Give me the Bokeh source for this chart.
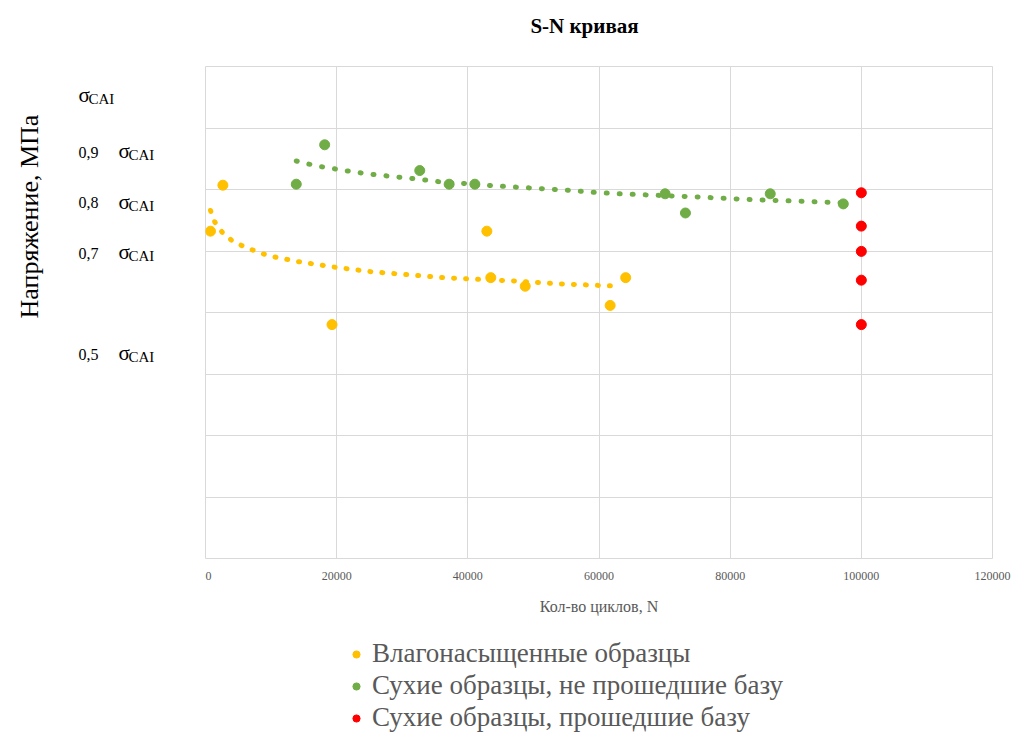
import numpy as np
from math import pi
from bokeh.plotting import figure
from bokeh.layouts import row, column
from bokeh.core.properties import value
from bokeh.models import (Range1d, FixedTicker, NumeralTickFormatter, Label,
                          Legend, LegendItem)
from bokeh.embed import file_html
from bokeh.resources import INLINE

# ---------------- data (stress as fraction of sigma_CAI, cycles N) ----------------
wet_n = [760, 2650, 19290, 42900, 43500, 48750, 61700, 64070]
wet_s = [0.742, 0.833, 0.557, 0.742, 0.650, 0.633, 0.595, 0.650]

dry_fail_n = [13840, 18170, 32670, 37150, 41070, 70080, 73180, 86110, 97250]
dry_fail_s = [0.835, 0.913, 0.862, 0.835, 0.835, 0.816, 0.778, 0.816, 0.796]

dry_runout_n = [100000, 100000, 100000, 100000, 100000]
dry_runout_s = [0.818, 0.752, 0.702, 0.645, 0.557]

# trendlines as drawn in the picture
wet_trend_n = [760, 1420, 2540, 3970, 5450, 7130, 8800, 10530, 14000, 19490,
               25090, 30690, 36290, 41880, 47740, 53540, 59290, 63200]
wet_trend_s = [0.783, 0.760, 0.740, 0.724, 0.714, 0.705, 0.697, 0.691, 0.682, 0.671,
               0.662, 0.656, 0.650, 0.6465, 0.643, 0.638, 0.635, 0.633]

dry_trend_n = [13840, 15670, 17510, 19390, 21220, 24940, 28650, 32410, 36230, 40050,
               43820, 47630, 51500, 55310, 59190, 63050, 66870, 70730, 74610, 78470,
               82340, 86200, 90080, 93940, 97250]
dry_trend_s = [0.881, 0.875, 0.870, 0.866, 0.862, 0.855, 0.850, 0.845, 0.839, 0.836,
               0.832, 0.829, 0.826, 0.823, 0.819, 0.816, 0.814, 0.812, 0.810, 0.8075,
               0.805, 0.803, 0.8016, 0.7996, 0.798]

series_names = ["Влагонасыщенные образцы",
                "Сухие образцы, не прошедшие базу",
                "Сухие образцы, прошедшие базу"]
series_colors = ["#FFC000", "#70AD47", "#FF0000"]
series_n = [wet_n, dry_fail_n, dry_runout_n]
series_s = [wet_s, dry_fail_s, dry_runout_s]

x_ticks = [0, 20000, 40000, 60000, 80000, 100000, 120000]
sigma_levels = [0.9, 0.8, 0.7, 0.5]
sigma_prefix = ["0,9", "0,8", "0,7", "0,5"]
sigma_full_level = [1.0]

TITLE = "S-N кривая"
Y_TITLE = "Напряжение, МПа"
X_TITLE = "Кол-во циклов, N"

Y_MIN, Y_MAX = 0.094, 1.068
SERIF = "Liberation Serif"
y_range = Range1d(Y_MIN, Y_MAX)

TITLE_H = 66
ROW_H = 558
LEG_H = 734 - TITLE_H - ROW_H


def blank(fig):
    fig.grid.visible = False
    fig.outline_line_color = None
    fig.background_fill_color = "white"
    fig.border_fill_color = "white"


# ---------------- title strip ----------------
pt = figure(width=1018, height=TITLE_H, min_border=0,
            x_range=Range1d(0, 1), y_range=Range1d(0, 1),
            x_axis_location=None, y_axis_location=None,
            output_backend="svg", toolbar_location=None)
blank(pt)
pt.add_layout(Label(x=584, y=TITLE_H - 25, x_units="screen", y_units="screen",
                    text=TITLE, text_align="center", text_baseline="middle",
                    text_font=SERIF, text_font_size="21px",
                    text_font_style="bold", text_color="#000000"))

# ---------------- main plot ----------------
p = figure(width=813, height=ROW_H,
           min_border_left=0, min_border_right=26,
           min_border_top=0, min_border_bottom=66,
           x_range=Range1d(0, 120000), y_range=y_range,
           y_axis_location=None,
           output_backend="svg", toolbar_location=None)

p.background_fill_color = "white"
p.border_fill_color = "white"
p.outline_line_color = "#d9d9d9"
p.outline_line_width = 1

p.xaxis.ticker = FixedTicker(ticks=x_ticks)
p.xaxis.formatter = NumeralTickFormatter(format="0")
p.xaxis.major_tick_out = 0
p.xaxis.major_tick_in = 0
p.xaxis.minor_tick_out = 0
p.xaxis.minor_tick_in = 0
p.xaxis.axis_line_color = None
p.xaxis.major_label_text_font = SERIF
p.xaxis.major_label_text_font_size = "12px"
p.xaxis.major_label_text_color = "#595959"
p.xaxis.major_label_standoff = 13
p.xaxis.axis_label = X_TITLE
p.xaxis.axis_label_text_font = SERIF
p.xaxis.axis_label_text_font_size = "16px"
p.xaxis.axis_label_text_font_style = "normal"
p.xaxis.axis_label_text_color = "#595959"
p.xaxis.axis_label_standoff = 15

p.xgrid.ticker = FixedTicker(ticks=x_ticks)
p.ygrid.ticker = FixedTicker(ticks=list(np.linspace(Y_MIN, Y_MAX, 9)))
for g in (p.xgrid, p.ygrid):
    g.grid_line_color = "#d9d9d9"
    g.grid_line_width = 1

p.line(wet_trend_n, wet_trend_s, line_color=series_colors[0], line_width=5,
       line_dash="1 11", line_cap="round")
p.line(dry_trend_n, dry_trend_s, line_color=series_colors[1], line_width=5,
       line_dash="1 12", line_cap="round")

for xs, ys, c in zip(series_n, series_s, series_colors):
    p.scatter(xs, ys, size=10, color=c)

# ---------------- left strip: stress level text boxes and y title ----------------
pl = figure(width=205, height=ROW_H,
            min_border_left=0, min_border_right=0,
            min_border_top=0, min_border_bottom=66,
            x_range=Range1d(0, 205), y_range=y_range,
            x_axis_location=None, y_axis_location=None,
            output_backend="svg", toolbar_location=None)
blank(pl)

common = dict(text_font=value(SERIF), text_color="#000000", text_baseline="middle")
pl.text(x=[78] * len(sigma_levels), y=sigma_levels, text=sigma_prefix,
        text_font_size="16px", y_offset=1, **common)
pl.text(x=[118] * len(sigma_levels), y=sigma_levels, text=["σ"] * len(sigma_levels),
        text_font_size="21px", y_offset=0, **common)
pl.text(x=[128] * len(sigma_levels), y=sigma_levels, text=["CAI"] * len(sigma_levels),
        text_font_size="15px", y_offset=4, **common)
pl.text(x=[78], y=sigma_full_level, text=["σ"], text_font_size="21px",
        y_offset=-6, **common)
pl.text(x=[88], y=sigma_full_level, text=["CAI"], text_font_size="15px",
        y_offset=-2, **common)

pl.add_layout(Label(x=29, y=342, x_units="screen", y_units="screen",
                    text=Y_TITLE, angle=pi / 2, text_align="center",
                    text_baseline="middle", text_font=SERIF,
                    text_font_size="26px", text_color="#000000"))

# ---------------- legend strip ----------------
pb = figure(width=1018, height=LEG_H, min_border=0,
            x_range=Range1d(0, 1), y_range=Range1d(0, 1),
            x_axis_location=None, y_axis_location=None,
            output_backend="svg", toolbar_location=None)
blank(pb)

leg_renderers = [pb.scatter(xs, ys, size=10, color=c, visible=False)
                 for xs, ys, c in zip(series_n, series_s, series_colors)]
legend = Legend(items=[LegendItem(label=n, renderers=[r])
                       for n, r in zip(series_names, leg_renderers)],
                location=(347, 1), orientation="vertical",
                border_line_color=None, background_fill_alpha=0,
                label_text_font=SERIF, label_text_font_size="27px",
                label_text_color="#595959", glyph_width=18, glyph_height=18,
                label_standoff=7, spacing=1, padding=0, margin=0,
                label_height=31)
pb.add_layout(legend, "center")

layout = column(pt, row(pl, p, spacing=0), pb, spacing=0)
open("out.html", "w").write(file_html(layout, INLINE))
